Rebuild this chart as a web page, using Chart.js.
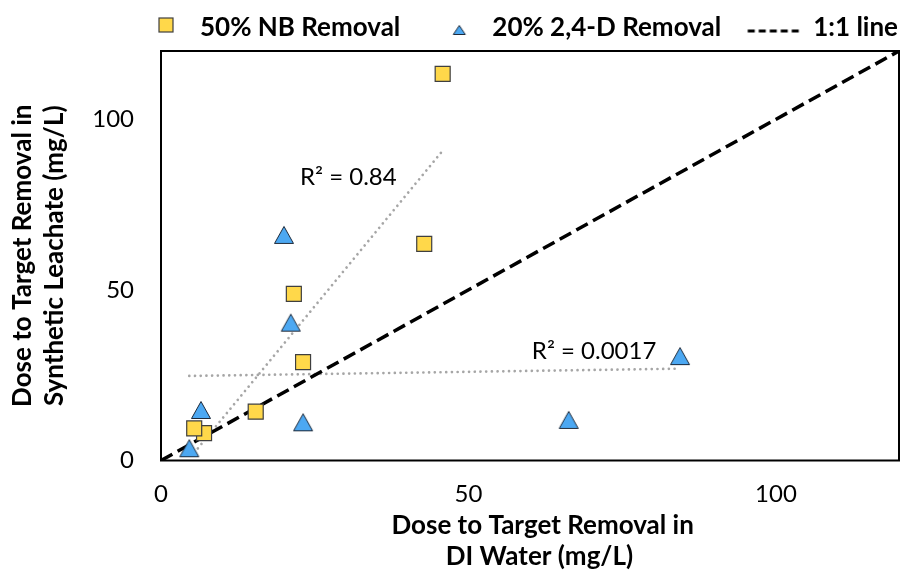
<!DOCTYPE html>
<html>
<head>
<meta charset="utf-8">
<script src="https://cdn.jsdelivr.net/npm/chart.js@4.4.1/dist/chart.umd.min.js"></script>
<style>
  html, body { margin: 0; padding: 0; background: #fff; }
  #wrap { width: 907px; height: 574px; }
</style>
</head>
<body>
<div id="wrap"><canvas id="chart" width="907" height="574"></canvas></div>
<script>
// Dose needed to reach the removal target: DI water (x) vs synthetic leachate (y), mg/L
const nbDI        = [45.8, 42.8, 21.6, 23.1, 15.4, 7.0, 5.4];
const nbLeachate  = [113.3, 63.5, 48.8, 28.8, 14.3, 8.0, 9.4];
const dDI         = [20.0, 21.1, 6.5, 23.1, 4.6, 66.3, 84.4];
const dLeachate   = [66.1, 40.4, 14.8, 11.2, 3.6, 11.9, 30.6];
const oneToOne    = [0, 120];
const xTicks      = [0, 50, 100];
const yTicks      = [0, 50, 100];
const seriesNames = ['50% NB Removal', '20% 2,4-D Removal', '1:1 line'];
const r2Labels    = ['R\u00B2 = 0.84', 'R\u00B2 = 0.0017'];
const r2Anchors   = [[22.6, 83.1], [60.3, 32.1]];   // left edge / vertical centre, in data units

const FONT = 'Lato';
const NB_FILL = '#FFD84A', NB_EDGE = '#3F3F3F';
const D_FILL = '#4CA8F2', D_EDGE = '#1E2A3A';

// least-squares linear trendline spanning the x range of a series
function trend(xs, ys) {
  const n = xs.length;
  const mx = xs.reduce((a, b) => a + b, 0) / n;
  const my = ys.reduce((a, b) => a + b, 0) / n;
  let sxy = 0, sxx = 0;
  for (let i = 0; i < n; i++) { sxy += (xs[i] - mx) * (ys[i] - my); sxx += (xs[i] - mx) ** 2; }
  const b = sxy / sxx, a = my - b * mx;
  const x0 = Math.min(...xs), x1 = Math.max(...xs);
  return [{ x: x0, y: a + b * x0 }, { x: x1, y: a + b * x1 }];
}
const pts = (xs, ys) => xs.map((x, i) => ({ x, y: ys[i] }));

// marker sprites (triangle is centred on its bounding box)
function sprite(w, h, draw) {
  const c = document.createElement('canvas');
  c.width = w; c.height = h;
  draw(c.getContext('2d'), w, h);
  return c;
}
function triangle(ctx, cx, cy, w, h) {
  ctx.beginPath();
  ctx.moveTo(cx, cy - h / 2);
  ctx.lineTo(cx + w / 2, cy + h / 2);
  ctx.lineTo(cx - w / 2, cy + h / 2);
  ctx.closePath();
  ctx.fillStyle = D_FILL; ctx.fill();
  ctx.lineWidth = 1; ctx.strokeStyle = D_EDGE; ctx.stroke();
}
const triMarker = sprite(22, 22, (ctx) => triangle(ctx, 11, 11, 19, 17));

const LEG_W = 140, LEG_H = 30;
const legSquare = sprite(LEG_W, LEG_H, (ctx) => {
  const cx = LEG_W / 2 + 18, cy = LEG_H / 2 - 3;
  ctx.fillStyle = NB_FILL; ctx.fillRect(cx - 7, cy - 7, 14, 14);
  ctx.lineWidth = 1.2; ctx.strokeStyle = NB_EDGE; ctx.strokeRect(cx - 7, cy - 7, 14, 14);
});
const legTri = sprite(LEG_W, LEG_H, (ctx) => triangle(ctx, LEG_W / 2 + 19, LEG_H / 2 + 2, 12, 9));
const legDash = sprite(LEG_W, LEG_H, (ctx) => {
  const cx = LEG_W / 2 + 14, cy = LEG_H / 2 + 3;
  ctx.strokeStyle = '#000'; ctx.lineWidth = 3; ctx.setLineDash([7, 4]);
  ctx.beginPath(); ctx.moveTo(cx - 27.5, cy); ctx.lineTo(cx + 27.5, cy); ctx.stroke();
});

// plot-area frame
const frame = {
  id: 'frame',
  beforeDatasetsDraw(chart) {
    const { ctx, chartArea: a } = chart;
    ctx.save();
    ctx.strokeStyle = '#000'; ctx.lineWidth = 2;
    ctx.strokeRect(a.left, a.top, a.right - a.left, a.bottom - a.top);
    ctx.restore();
  }
};
// R² captions beside the trendlines
const r2Text = {
  id: 'r2Text',
  afterDatasetsDraw(chart) {
    const { ctx, scales: { x, y } } = chart;
    ctx.save();
    ctx.font = `24px ${FONT}`; ctx.fillStyle = '#000';
    ctx.textAlign = 'left'; ctx.textBaseline = 'middle';
    r2Labels.forEach((t, i) => ctx.fillText(t, x.getPixelForValue(r2Anchors[i][0]), y.getPixelForValue(r2Anchors[i][1])));
    ctx.restore();
  }
};

const fixedTicks = (vals) => (s) => { s.ticks = vals.map(v => ({ value: v })); };

new Chart(document.getElementById('chart'), {
  type: 'scatter',
  data: {
    datasets: [
      { label: seriesNames[0], data: pts(nbDI, nbLeachate), order: 1,
        pointStyle: 'rect', pointRadius: 10.6, pointHoverRadius: 10.6,
        backgroundColor: NB_FILL, borderColor: NB_EDGE, borderWidth: 1.2 },
      { label: seriesNames[1], data: pts(dDI, dLeachate), order: 1,
        pointStyle: triMarker, pointRadius: 11, pointHoverRadius: 11 },
      { label: 'NB trend', data: trend(nbDI, nbLeachate), order: 3, showLine: true,
        pointRadius: 0, borderColor: '#A6A6A6', borderWidth: 2.7, borderDash: [0.01, 5.7], borderCapStyle: 'round' },
      { label: '2,4-D trend', data: trend(dDI, dLeachate), order: 3, showLine: true,
        pointRadius: 0, borderColor: '#A6A6A6', borderWidth: 2.7, borderDash: [0.01, 5.7], borderCapStyle: 'round' },
      { label: seriesNames[2], data: pts(oneToOne, oneToOne), order: 2, showLine: true,
        pointRadius: 0, borderColor: '#000', borderWidth: 3.5, borderDash: [13, 6] }
    ]
  },
  options: {
    responsive: false,
    animation: false,
    devicePixelRatio: 1,
    layout: { autoPadding: false, padding: { top: 14, right: 8, bottom: 2, left: 0 } },
    plugins: {
      tooltip: { enabled: false },
      legend: {
        position: 'top',
        align: 'end',
        labels: {
          usePointStyle: true,
          pointStyleWidth: 78,
          boxHeight: 26,
          padding: 1,
          color: '#000',
          font: { family: FONT, size: 26, weight: 'bold' },
          generateLabels: () => [
            { text: seriesNames[0], pointStyle: legSquare, lineWidth: 0, datasetIndex: 0 },
            { text: seriesNames[1], pointStyle: legTri, lineWidth: 0, datasetIndex: 1 },
            { text: seriesNames[2], pointStyle: legDash, lineWidth: 0, datasetIndex: 4 }
          ]
        }
      }
    },
    scales: {
      x: {
        type: 'linear', min: 0, max: 120,
        afterBuildTicks: fixedTicks(xTicks),
        afterFit: (s) => { s.height = 111.5; },
        grid: { display: false }, border: { display: false },
        ticks: { color: '#000', padding: 11, font: { family: FONT, size: 24 } },
        title: { display: true, color: '#000', text: ['    Dose to Target Removal in', '   DI Water (mg/L)'],
                 font: { family: FONT, size: 26, weight: 'bold', lineHeight: 1.2 }, padding: { top: 0, bottom: 0 } }
      },
      y: {
        type: 'linear', min: 0, max: 120,
        afterBuildTicks: fixedTicks(yTicks),
        afterFit: (s) => { s.width = 161; },
        grid: { display: false }, border: { display: false },
        ticks: { color: '#000', padding: 19, font: { family: FONT, size: 24 } },
        title: { display: true, color: '#000', text: ['Dose to Target Removal in', 'Synthetic Leachate (mg/L)'],
                 font: { family: FONT, size: 26, weight: 'bold', lineHeight: 1.25 }, padding: { top: 6, bottom: 0 } }
      }
    }
  },
  plugins: [frame, r2Text]
});
</script>
</body>
</html>
